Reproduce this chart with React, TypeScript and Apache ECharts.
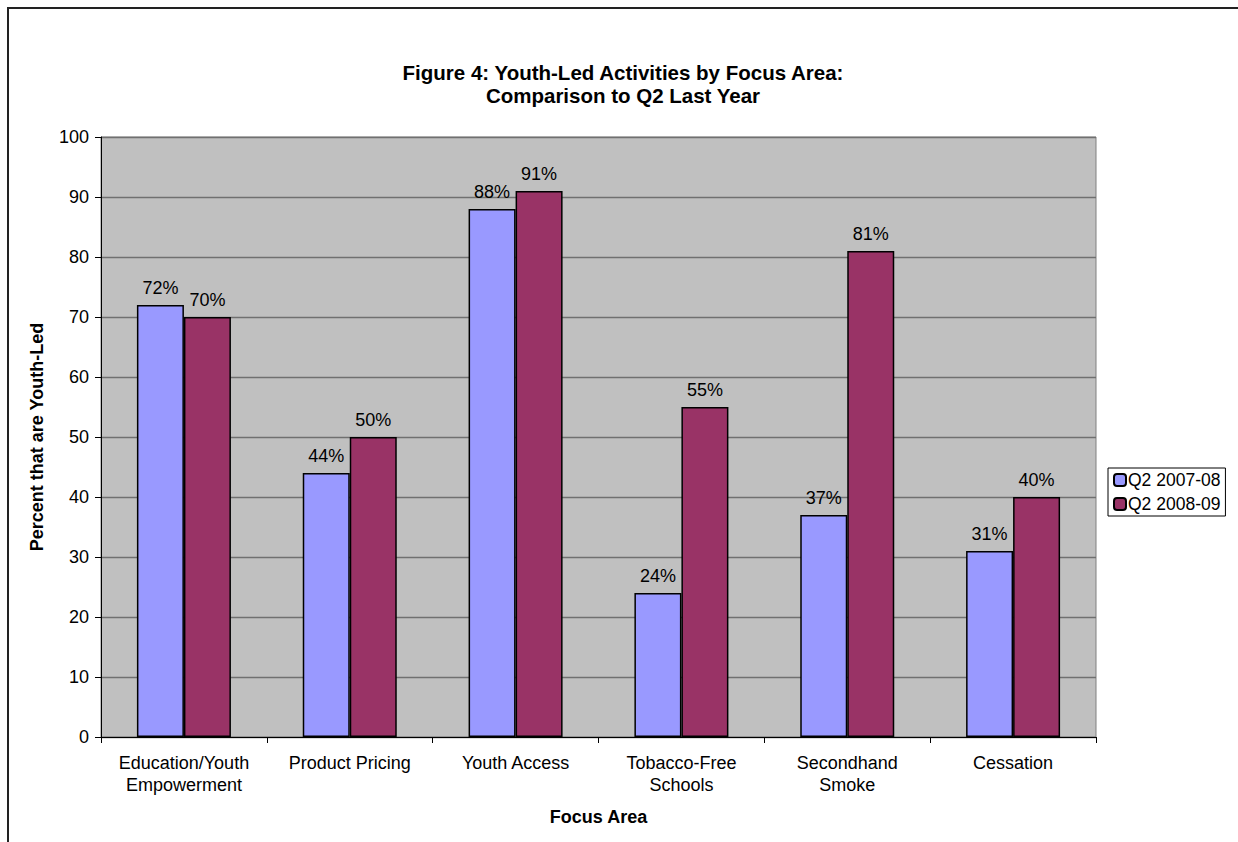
import React, { useEffect, useRef } from "react";
import * as echarts from "echarts";

const categories = [
  "Education/Youth\nEmpowerment",
  "Product Pricing",
  "Youth Access",
  "Tobacco-Free\nSchools",
  "Secondhand\nSmoke",
  "Cessation",
];
const seriesNames = ["Q2 2007-08", "Q2 2008-09"];
const q2_2007_08 = [72, 44, 88, 24, 37, 31];
const q2_2008_09 = [70, 50, 91, 55, 81, 40];
const seriesColors = ["#9999FF", "#993366"];

const FONT = "'Liberation Sans', Arial, sans-serif";

export default function App() {
  const ref = useRef<HTMLDivElement>(null);

  useEffect(() => {
    document.body.style.margin = "0";
    const chart = echarts.init(ref.current!, undefined, { renderer: "svg" });
    const values = [q2_2007_08, q2_2008_09];
    chart.setOption({
      animation: false,
      backgroundColor: "#FFFFFF",
      textStyle: { fontFamily: FONT, color: "#000" },
      title: {
        text: "Figure 4: Youth-Led Activities by Focus Area:\nComparison to Q2 Last Year",
        left: 618,
        top: 56,
        textAlign: "center",
        textStyle: {
          fontFamily: FONT,
          fontSize: 20.5,
          fontWeight: "bold",
          color: "#000",
          lineHeight: 23,
        },
      },
      legend: {
        orient: "vertical",
        left: 1108,
        top: 468,
        data: seriesNames,
        itemWidth: 12,
        itemHeight: 12,
        itemGap: 6,
        padding: [3, 5, 3, 5],
        borderColor: "#000",
        borderWidth: 1,
        textStyle: { fontFamily: FONT, fontSize: 17.5, color: "#000", padding: [0, 0, 0, -3] },
      },
      grid: {
        left: 101,
        top: 137,
        width: 995,
        height: 600,
        show: true,
        backgroundColor: "#C0C0C0",
        borderColor: "#808080",
        borderWidth: 1,
      },
      xAxis: {
        type: "category",
        data: categories,
        name: "Focus Area",
        nameLocation: "middle",
        nameGap: 71,
        nameTextStyle: { fontFamily: FONT, fontSize: 18, fontWeight: "bold", color: "#000" },
        axisLine: { lineStyle: { color: "#000", width: 1 } },
        axisTick: { show: true, length: 6, lineStyle: { color: "#000" } },
        axisLabel: {
          interval: 0,
          fontFamily: FONT,
          fontSize: 18,
          color: "#000",
          margin: 15,
          lineHeight: 22,
        },
      },
      yAxis: {
        type: "value",
        min: 0,
        max: 100,
        interval: 10,
        name: "Percent that are Youth-Led",
        nameLocation: "middle",
        nameGap: 55,
        nameTextStyle: { fontFamily: FONT, fontSize: 18, fontWeight: "bold", color: "#000" },
        axisLine: { show: true, lineStyle: { color: "#000", width: 1 } },
        axisTick: { show: true, length: 6, lineStyle: { color: "#000" } },
        axisLabel: { fontFamily: FONT, fontSize: 18, color: "#000", margin: 12 },
        splitLine: { show: true, lineStyle: { color: "#707070", width: 1.3 } },
      },
      series: seriesNames.map((name, i) => ({
        name,
        type: "bar",
        data: values[i],
        barWidth: 47,
        barGap: "0%",
        itemStyle: { color: seriesColors[i], borderColor: "#000", borderWidth: 1.5 },
        label: {
          show: true,
          position: "top",
          distance: 8,
          formatter: "{c}%",
          fontFamily: FONT,
          fontSize: 18,
          color: "#000",
        },
      })),
      graphic: [
        {
          type: "rect",
          shape: { x: 8, y: 8, width: 1400, height: 1000 },
          style: { fill: "none", stroke: "#222", lineWidth: 2 },
          silent: true,
        },
      ],
    });
    return () => chart.dispose();
  }, []);

  return <div ref={ref} style={{ width: 1238, height: 842 }} />;
}
